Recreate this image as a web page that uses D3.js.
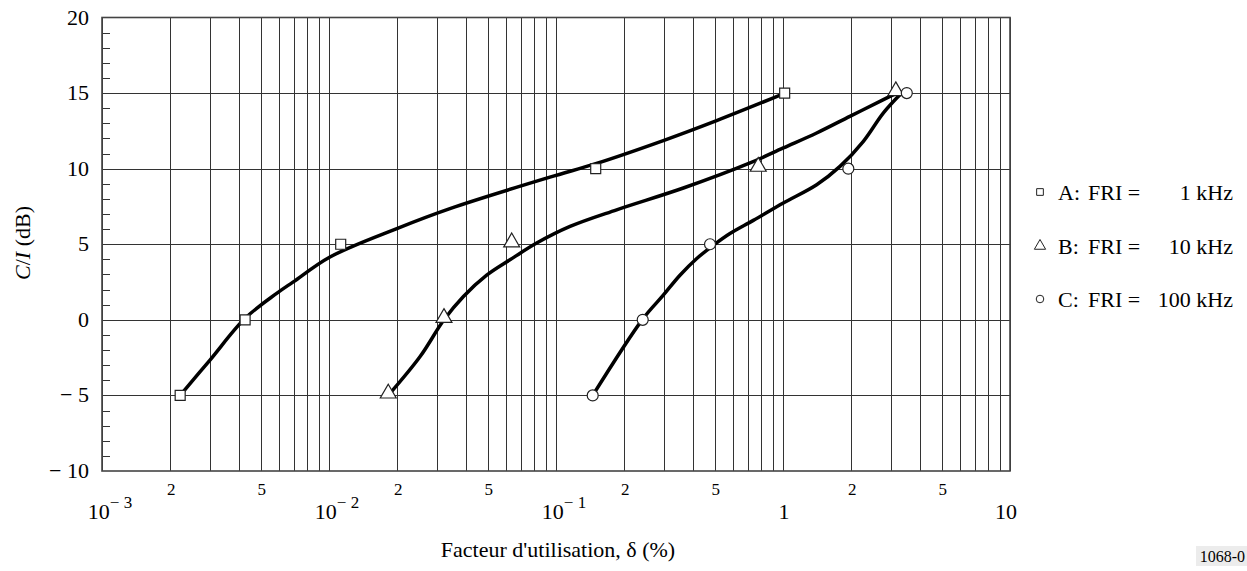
<!DOCTYPE html>
<html>
<head>
<meta charset="utf-8">
<script src="https://cdn.jsdelivr.net/npm/d3@7"></script>
<style>
  body { margin: 0; background: #fff; }
  svg text { font-family: "Liberation Serif", Tinos, "Times New Roman", "DejaVu Serif", serif; fill: #000; }
</style>
</head>
<body>
<div id="chart"></div>
<script>
const width = 1247;
const height = 571;

// C/I levels (dB) at which the markers were measured
const levels = [-5, 0, 5, 10, 15];
// duty factor (%) for each series at those levels
const deltaA = [0.00221, 0.00427, 0.01126, 0.1496, 1.017];
const deltaB = [0.01824, 0.0321, 0.0638, 0.778, 3.14];
const deltaC = [0.1451, 0.241, 0.477, 1.94, 3.51];

// fitted curves
const curveAx = [0.00221, 0.00299, 0.00427, 0.00588, 0.00696, 0.0101, 0.0199, 0.0341, 0.094, 0.1496, 0.297, 0.51, 1.003];
const curveAy = [-5, -2.66, 0.1, 1.75, 2.51, 4.16, 6.04, 7.36, 9.44, 10.33, 11.86, 13.18, 14.95];
const curveBx = [0.01824, 0.0252, 0.0321, 0.0391, 0.0495, 0.0627, 0.0822, 0.1153, 0.185, 0.364, 0.716, 1.003, 1.407, 1.97, 2.77, 3.27];
const curveBy = [-5, -2.43, 0, 1.54, 2.95, 3.97, 5.08, 6.18, 7.28, 8.72, 10.38, 11.37, 12.36, 13.46, 14.57, 15.1];
const curveCx = [0.1451, 0.241, 0.2969, 0.3516, 0.417, 0.493, 0.584, 0.74, 1.003, 1.407, 1.783, 2.26, 2.77, 3.33];
const curveCy = [-5, 0.05, 1.63, 2.95, 4.06, 4.93, 5.71, 6.58, 7.73, 8.94, 10.15, 11.81, 13.69, 15.0];

const yTicks = [-10, -5, 0, 5, 10, 15, 20];
const yTickLabels = ["\u2212 10", "\u2212 5", "0", "5", "10", "15", "20"];
const decades = [0.001, 0.01, 0.1, 1, 10];
const decadeBase = ["10", "10", "10", "1", "10"];
const decadeExp = ["\u2212 3", "\u2212 2", "\u2212 1", "", ""];
const legendNames = ["A:", "B:", "C:"];
const legendFri = ["1 kHz", "10 kHz", "100 kHz"];

const x = d3.scaleLog().domain([0.001, 10]).range([102, 1010]);
const y = d3.scaleLinear().domain([-10, 20]).range([471, 17.5]);

const svg = d3.select("#chart").append("svg")
  .attr("width", width)
  .attr("height", height)
  .attr("font-family", "'Liberation Serif', Tinos, 'Times New Roman', 'DejaVu Serif', serif");

// vertical grid: every 1..9 in each decade
const minor = [];
for (let d = -3; d < 1; d++) {
  for (let m = 1; m <= 9; m++) minor.push(m * Math.pow(10, d));
}
minor.push(10);

svg.append("g")
  .selectAll("line")
  .data(minor)
  .enter()
  .append("line")
  .attr("x1", (d) => Math.round(x(d)) + 0.5)
  .attr("x2", (d) => Math.round(x(d)) + 0.5)
  .attr("y1", y(20))
  .attr("y2", y(-10))
  .attr("stroke", "#333")
  .attr("stroke-width", 1);

// horizontal grid every 5 dB
svg.append("g")
  .selectAll("line")
  .data([-5, 0, 5, 10, 15])
  .enter()
  .append("line")
  .attr("x1", x(0.001))
  .attr("x2", x(10))
  .attr("y1", (d) => Math.round(y(d)) + 0.5)
  .attr("y2", (d) => Math.round(y(d)) + 0.5)
  .attr("stroke", "#333")
  .attr("stroke-width", 1);

// small ticks every 1 dB on the left side
svg.append("g")
  .selectAll("line")
  .data(d3.range(-10, 21).filter((d) => d % 5 !== 0))
  .enter()
  .append("line")
  .attr("x1", x(0.001))
  .attr("x2", x(0.001) + 8)
  .attr("y1", (d) => Math.round(y(d)) + 0.5)
  .attr("y2", (d) => Math.round(y(d)) + 0.5)
  .attr("stroke", "#333");

// frame
svg.append("rect")
  .attr("x", x(0.001))
  .attr("y", y(20))
  .attr("width", x(10) - x(0.001))
  .attr("height", y(-10) - y(20))
  .attr("fill", "none")
  .attr("stroke", "#444")
  .attr("stroke-width", 1.6);

// y tick labels
svg.append("g")
  .selectAll("text")
  .data(yTicks)
  .enter()
  .append("text")
  .attr("x", 89)
  .attr("y", (d) => y(d) + 7)
  .attr("text-anchor", "end")
  .style("font-size", "22px")
  .text((d, i) => yTickLabels[i]);

// x labels: "2" and "5" in each decade
const twoFive = [];
for (let d = -3; d < 1; d++) twoFive.push(2 * Math.pow(10, d), 5 * Math.pow(10, d));
svg.append("g")
  .selectAll("text")
  .data(twoFive)
  .enter()
  .append("text")
  .attr("x", (d) => x(d) + 1)
  .attr("y", 495)
  .attr("text-anchor", "middle")
  .style("font-size", "17px")
  .text((d) => String(d).replace(/^0\.0*/, "")[0]);

// decade labels
const dec = svg.append("g")
  .selectAll("text")
  .data(decades)
  .enter()
  .append("text")
  .attr("x", (d, i) => x(d) + (decadeExp[i] ? 8 : (d === 1 ? 1 : -4)))
  .attr("y", 519)
  .attr("text-anchor", "middle")
  .style("font-size", "22px");
dec.append("tspan").text((d, i) => decadeBase[i]);
dec.append("tspan")
  .attr("dy", -11)
  .style("font-size", "17px")
  .text((d, i) => decadeExp[i]);

// axis titles
svg.append("text")
  .attr("x", 558)
  .attr("y", 557)
  .attr("text-anchor", "middle")
  .style("font-size", "22px")
  .text("Facteur d'utilisation, \u03b4 (%)");

const yTitle = svg.append("text")
  .attr("transform", "translate(30, 243) rotate(-90)")
  .attr("text-anchor", "middle")
  .style("font-size", "22px");
yTitle.append("tspan").style("font-style", "italic").text("C");
yTitle.append("tspan").text("/");
yTitle.append("tspan").style("font-style", "italic").text("I");
yTitle.append("tspan").text(" (dB)");

// curves
const line = d3.line()
  .x((d) => x(d[0]))
  .y((d) => y(d[1]))
  .curve(d3.curveCatmullRom.alpha(0.5));

const curves = [
  d3.zip(curveAx, curveAy),
  d3.zip(curveBx, curveBy),
  d3.zip(curveCx, curveCy),
];
svg.append("g")
  .selectAll("path")
  .data(curves)
  .enter()
  .append("path")
  .attr("d", line)
  .attr("fill", "none")
  .attr("stroke", "#000")
  .attr("stroke-width", 3.5)
  .attr("stroke-linecap", "round");

// markers
const symbols = [d3.symbolSquare, d3.symbolTriangle, d3.symbolCircle];
const symSizes = [100, 110, 95];
const series = [deltaA, deltaB, deltaC];
series.forEach((vals, s) => {
  svg.append("g")
    .selectAll("path")
    .data(d3.zip(vals, levels))
    .enter()
    .append("path")
    .attr("transform", (d) => `translate(${x(d[0])},${y(d[1]) - (s === 1 ? 2 : 0)})`)
    .attr("d", d3.symbol().type(symbols[s]).size(symSizes[s]))
    .attr("fill", "#fff")
    .attr("stroke", "#222")
    .attr("stroke-width", 1.2);
});

// legend
const legendY = [193, 247, 300];
const legendSizes = [45, 55, 45];
legendNames.forEach((name, i) => {
  const g = svg.append("g");
  g.append("path")
    .attr("transform", `translate(${1040},${legendY[i] - 1})`)
    .attr("d", d3.symbol().type(symbols[i]).size(legendSizes[i]))
    .attr("fill", "#fff")
    .attr("stroke", "#222")
    .attr("stroke-width", 1);
  g.append("text")
    .attr("x", 1058)
    .attr("y", legendY[i] + 7)
    .style("font-size", "22px")
    .text(name);
  g.append("text")
    .attr("x", 1088)
    .attr("y", legendY[i] + 7)
    .style("font-size", "22px")
    .text("FRI =");
  g.append("text")
    .attr("x", 1233)
    .attr("y", legendY[i] + 7)
    .attr("text-anchor", "end")
    .style("font-size", "22px")
    .text(legendFri[i]);
});

// figure number
svg.append("rect")
  .attr("x", 1196)
  .attr("y", 546)
  .attr("width", 51)
  .attr("height", 20)
  .attr("fill", "#ececec");
svg.append("text")
  .attr("x", 1245)
  .attr("y", 562)
  .attr("text-anchor", "end")
  .style("font-size", "16px")
  .text("1068-0");
</script>
</body>
</html>
